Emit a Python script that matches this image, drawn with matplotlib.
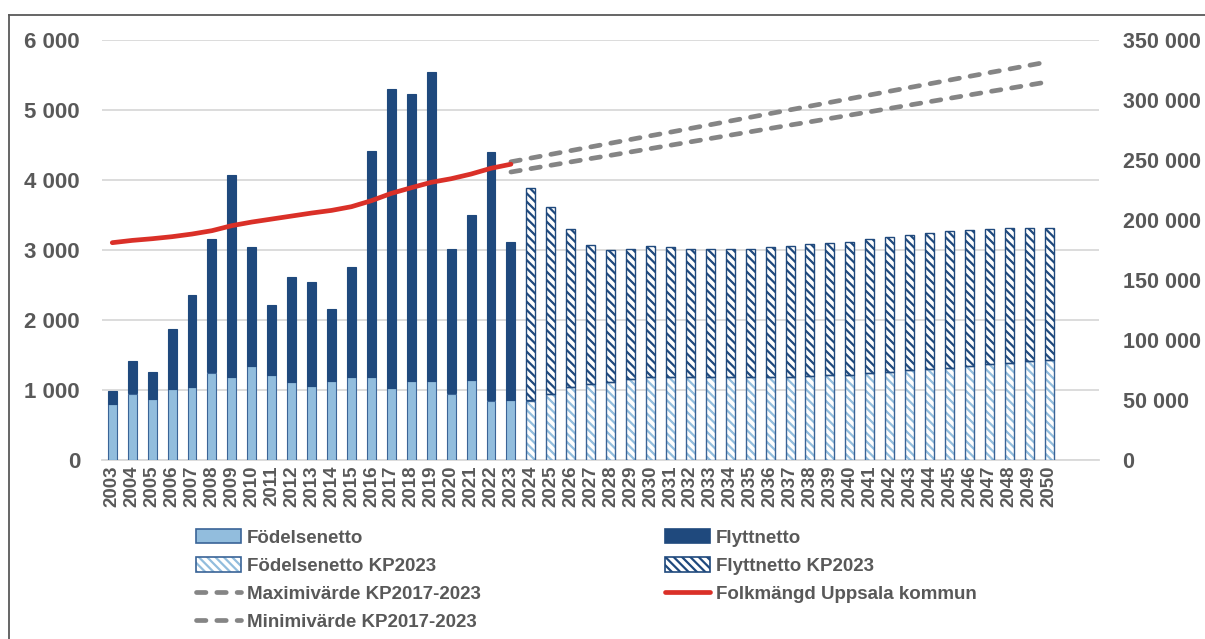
import matplotlib
matplotlib.use("Agg")
import matplotlib.pyplot as plt
from matplotlib.ticker import FuncFormatter, FixedLocator
from matplotlib.lines import Line2D
from matplotlib.patches import Patch
from matplotlib.legend_handler import HandlerTuple
import numpy as np

plt.rcParams['font.family'] = ['Liberation Sans', 'DejaVu Sans']
plt.rcParams['font.weight'] = 'bold'
plt.rcParams['hatch.linewidth'] = 1.6

# ---------------- data ----------------
years = [str(y) for y in range(2003, 2051)]
hist_years = years[:21]           # 2003-2023
proj_years = years[21:]           # 2024-2050

fodelsenetto = [800, 950, 870, 1010, 1040, 1250, 1180, 1340, 1210, 1120, 1060,
                1130, 1190, 1190, 1030, 1130, 1130, 950, 1140, 850, 860]
flyttnetto = [190, 460, 380, 860, 1310, 1900, 2890, 1700, 1000, 1490, 1480,
              1020, 1560, 3230, 4270, 4100, 4410, 2070, 2360, 3550, 2250]

fodelsenetto_kp = [850, 940, 1040, 1090, 1120, 1160, 1190, 1190, 1190, 1190,
                   1190, 1190, 1190, 1190, 1200, 1210, 1220, 1240, 1260, 1280,
                   1300, 1310, 1340, 1370, 1390, 1410, 1430]
flyttnetto_kp = [3040, 2670, 2260, 1980, 1880, 1860, 1860, 1850, 1830, 1820,
                 1830, 1830, 1850, 1860, 1880, 1890, 1900, 1920, 1930, 1940,
                 1940, 1960, 1950, 1930, 1920, 1900, 1880]

folkmangd = [181100, 183000, 184400, 186100, 188300, 191100, 195300, 198300,
             200800, 203300, 205800, 208000, 211100, 216100, 222200, 226900,
             231400, 234400, 238300, 243100, 246500]

line_years = years[20:]           # 2023-2050
maxvarde = [248500, 251600, 254700, 257800, 260900, 264000, 267100, 270200,
            273200, 276300, 279400, 282500, 285600, 288700, 291800, 294900,
            298000, 301100, 304200, 307300, 310400, 313500, 316600, 319700,
            322800, 325800, 328900, 332000]
minvarde = [240000, 242800, 245600, 248400, 251200, 253900, 256700, 259500,
            262300, 265100, 267900, 270700, 273500, 276300, 279100, 281800,
            284600, 287400, 290200, 293000, 295800, 298600, 301400, 304200,
            307000, 309700, 312500, 315300]

left_ticks = [0, 1000, 2000, 3000, 4000, 5000, 6000]
right_ticks = [0, 50000, 100000, 150000, 200000, 250000, 300000, 350000]

# ---------------- style ----------------
TXT = '#595959'
DARK = '#1F497D'
LIGHT = '#92BDDD'
EDGE_L = '#3A6497'
GRID = '#D9D9D9'
RED = '#DA3028'
GRAY = '#858585'
DASH = (2.0, 2.3)
LW = 3.4
HATCH = '\\\\\\\\'

W, H = 1205, 639
fig = plt.figure(figsize=(W / 100, H / 100), dpi=100)
L, R, T, B = 102.3, 1099, 40, 460
ax = fig.add_axes([L / W, 1 - B / H, (R - L) / W, (B - T) / H])
ax2 = ax.twinx()

pos = {y: i for i, y in enumerate(years)}
xh = np.array([pos[y] for y in hist_years])
xp = np.array([pos[y] for y in proj_years])
xl = np.array([pos[y] for y in line_years])
bw = 0.45

# historical bars
ax.bar(xh, fodelsenetto, bw, color=LIGHT, edgecolor=EDGE_L, linewidth=0.8, zorder=3)
ax.bar(xh, flyttnetto, bw, bottom=fodelsenetto, color=DARK, edgecolor=DARK,
       linewidth=0.8, zorder=3)

# projected bars (hatched)
ax.bar(xp, fodelsenetto_kp, bw, color='white', edgecolor=LIGHT, hatch=HATCH,
       linewidth=0, zorder=3)
ax.bar(xp, fodelsenetto_kp, bw, fill=False, edgecolor=EDGE_L, linewidth=1.0, zorder=4)
ax.bar(xp, flyttnetto_kp, bw, bottom=fodelsenetto_kp, color='white', edgecolor=DARK,
       hatch=HATCH, linewidth=0, zorder=3)
ax.bar(xp, flyttnetto_kp, bw, bottom=fodelsenetto_kp, fill=False, edgecolor=DARK,
       linewidth=1.0, zorder=4)

# lines on secondary axis
ax2.plot(xl, maxvarde, color=GRAY, lw=LW, dashes=DASH,
         dash_capstyle='round', zorder=5)
ax2.plot(xl, minvarde, color=GRAY, lw=LW, dashes=DASH,
         dash_capstyle='round', zorder=5)
ax2.plot(xh, folkmangd, color=RED, lw=LW, solid_capstyle='round', zorder=6)

# axes
ax.set_xlim(-0.5, 49.5)
ax.set_ylim(0, 6000)
ax2.set_ylim(0, 350000)
fmt = FuncFormatter(lambda v, p: f"{v:,.0f}".replace(",", " "))
ax.yaxis.set_major_locator(FixedLocator(left_ticks))
ax2.yaxis.set_major_locator(FixedLocator(right_ticks))
ax.yaxis.set_major_formatter(fmt)
ax2.yaxis.set_major_formatter(fmt)
ax.set_xticks(np.arange(len(years)))
ax.set_xticklabels(years, rotation=90)
ax.set_axisbelow(True)
ax.grid(axis='y', color=GRID, lw=1.3, zorder=0)
for a in (ax, ax2):
    for s in a.spines.values():
        s.set_visible(False)
ax.spines['bottom'].set_visible(True)
ax.spines['bottom'].set_color(GRID)
ax.spines['bottom'].set_linewidth(1.3)
ax.tick_params(axis='x', length=0, pad=4, labelsize=13.5, labelcolor=TXT)
ax.tick_params(axis='y', length=0, pad=16, labelsize=16, labelcolor=TXT)
ax2.tick_params(axis='y', length=0, pad=17, labelsize=15.5, labelcolor=TXT)
for lab in ax.get_xticklabels() + ax.get_yticklabels() + ax2.get_yticklabels():
    lab.set_fontweight('bold')

# legends
h_fod = Patch(facecolor=LIGHT, edgecolor=EDGE_L, linewidth=1.2)
h_flytt = Patch(facecolor=DARK, edgecolor=DARK, linewidth=1.2)
h_fodkp = (Patch(facecolor='white', edgecolor=LIGHT, hatch=HATCH, linewidth=0),
           Patch(fill=False, edgecolor=EDGE_L, linewidth=1.2))
h_flyttkp = (Patch(facecolor='white', edgecolor=DARK, hatch=HATCH, linewidth=0),
             Patch(fill=False, edgecolor=DARK, linewidth=1.2))
h_max = Line2D([], [], color=GRAY, lw=LW, dashes=DASH, dash_capstyle='round')
h_min = Line2D([], [], color=GRAY, lw=LW, dashes=DASH, dash_capstyle='round')
h_red = Line2D([], [], color=RED, lw=LW, solid_capstyle='round')

common = dict(loc='upper left', frameon=False, borderpad=0, borderaxespad=0,
              handlelength=2.4, handleheight=0.8, handletextpad=0.32,
              labelspacing=0.56, labelcolor=TXT,
              prop={'size': 13.5, 'weight': 'bold'},
              handler_map={tuple: HandlerTuple(ndivide=1, pad=0)})
leg1 = fig.legend([h_fod, h_fodkp, h_max, h_min],
                  ['Födelsenetto', 'Födelsenetto KP2023',
                   'Maximivärde KP2017-2023', 'Minimivärde KP2017-2023'],
                  bbox_to_anchor=(196 / W, 1 - 529 / H), **common)
leg2 = fig.legend([h_flytt, h_flyttkp, h_red],
                  ['Flyttnetto', 'Flyttnetto KP2023', 'Folkmängd Uppsala kommun'],
                  bbox_to_anchor=(665 / W, 1 - 529 / H), **common)

# outer frame (partially visible)
fig.add_artist(Line2D([9 / W, 9 / W], [0, 1 - 15 / H], color='#595959', lw=1.3,
                      transform=fig.transFigure))
fig.add_artist(Line2D([9 / W, 1], [1 - 15 / H, 1 - 15 / H], color='#595959', lw=1.3,
                      transform=fig.transFigure))

fig.savefig('out.png', dpi=100)
